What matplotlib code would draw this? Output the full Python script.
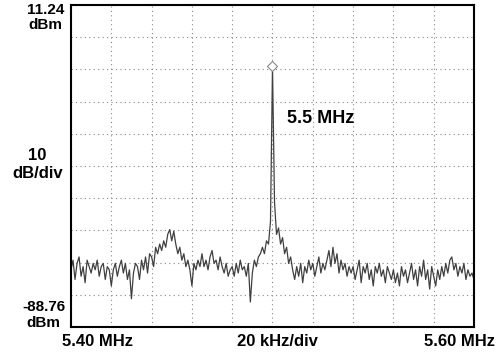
import numpy as np
import matplotlib.pyplot as plt

# span / level settings
f_start = 5.40   # MHz
f_stop = 5.60    # MHz
ref_top = 11.24  # dBm
ref_bot = -88.76 # dBm

# trace, one reading every 1 kHz from 5.400 to 5.600 MHz (dBm)
level = [
    -71, -68, -74, -69, -67, -73, -70, -75, -68, -70,
    -72, -69, -71, -68, -73, -70, -69, -74, -70, -71,
    -76, -71, -69, -73, -70, -68, -72, -69, -74, -71,
    -80, -72, -69, -70, -74, -68, -71, -67, -72, -66,
    -67, -70, -64, -66, -63, -65, -62, -64, -60, -58.5,
    -62, -59, -63, -66, -64, -68, -66, -70, -68, -71,
    -76, -69, -71, -68, -70, -66, -70, -68, -71, -67,
    -65, -69, -68, -71, -67, -70, -72, -69, -73, -71,
    -70, -73, -69, -72, -68, -71, -70, -73, -69, -81,
    -72, -68, -70, -67, -66, -64, -66, -62, -63, -56,
    -8, -50, -60, -58, -63, -61, -66, -64, -69, -67,
    -71, -74, -70, -73, -69, -75, -70, -72, -68, -71,
    -69, -73, -70, -67, -72, -69, -71, -68, -65, -70,
    -64, -69, -66, -72, -68, -71, -69, -73, -70, -72,
    -70, -74, -71, -68, -75, -70, -72, -69, -74, -71,
    -76, -70, -72, -69, -73, -71, -75, -70, -72, -74,
    -71, -75, -72, -76, -70, -73, -71, -75, -72, -69,
    -74, -71, -76, -70, -73, -68, -74, -71, -77, -70,
    -73, -76, -71, -74, -70, -73, -69, -72, -68, -67,
    -71, -69, -73, -70, -72, -69, -74, -71, -73, -72,
    -74,
]
freq = np.linspace(f_start, f_stop, len(level))

marker_freq = 5.50
marker_level = -7.6

W, H = 497, 358
fig = plt.figure(figsize=(W / 100, H / 100), dpi=100)
plt.rcParams['font.family'] = ['Liberation Sans', 'DejaVu Sans']

ax = fig.add_axes([71 / W, 1 - 327 / H, (474 - 71) / W, (327 - 5) / H])
ax.plot(freq, level, color='#404040', linewidth=0.9)
ax.plot([marker_freq], [marker_level], marker='D', markersize=5,
        markerfacecolor='white', markeredgecolor='#888888', markeredgewidth=0.8)

ax.set_xlim(f_start, f_stop)
ax.set_ylim(ref_bot, ref_top)
ax.set_xticks(np.linspace(f_start, f_stop, 11))
ax.set_yticks(np.linspace(ref_bot, ref_top, 11))
ax.tick_params(length=0, labelbottom=False, labelleft=False)
ax.grid(True, linestyle=(0, (1, 3)), color='#888888', linewidth=0.8)
for s in ax.spines.values():
    s.set_linewidth(1.5)
    s.set_color('black')

ax.text(5.5071, -24.0, '5.5 MHz', fontsize=13, fontweight='bold', va='center', ha='left')


def px_text(x, y, s, **kw):
    fig.text(x / W, 1 - y / H, s, ha='center', va='center',
             fontweight='bold', **kw)


px_text(46, 10, '11.24', fontsize=11)
px_text(45, 25, 'dBm', fontsize=11)
px_text(37, 155, '10', fontsize=12)
px_text(38, 173, 'dB/div', fontsize=12)
px_text(44, 307, '-88.76', fontsize=11)
px_text(43, 323, 'dBm', fontsize=11)
px_text(97, 342, '5.40 MHz', fontsize=12)
px_text(277, 342, '20 kHz/div', fontsize=12)
px_text(460, 342, '5.60 MHz', fontsize=12)

fig.savefig('out.png', dpi=100)
